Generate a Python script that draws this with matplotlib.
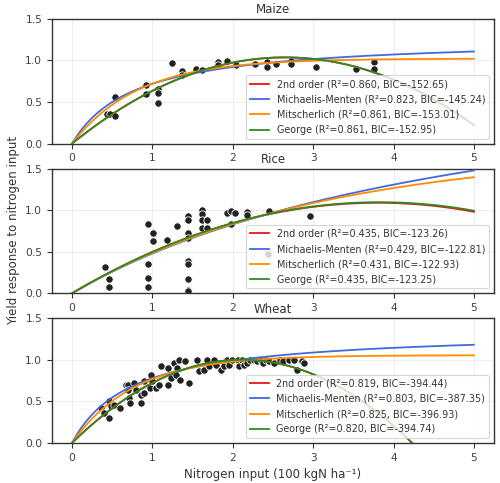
import numpy as np
import matplotlib
matplotlib.use("Agg")
import matplotlib.pyplot as plt

crops = ["Maize", "Rice", "Wheat"]

maize_x = [0.44, 0.475, 0.537, 0.537, 0.918, 0.918, 1.063, 1.063, 1.071, 1.237, 1.373, 1.373,
           1.542, 1.622, 1.815, 1.815, 1.923, 2.043, 2.279, 2.423, 2.423, 2.535, 2.721, 2.721,
           3.036, 3.536, 3.763, 3.763]
maize_y = [0.36, 0.357, 0.328, 0.556, 0.700, 0.592, 0.660, 0.609, 0.484, 0.969, 0.876, 0.828,
           0.897, 0.888, 0.981, 0.940, 0.996, 0.948, 0.960, 0.981, 0.921, 0.957, 0.993, 0.960,
           0.924, 0.897, 0.984, 0.900]

rice_x = [0.409, 0.455, 0.455, 0.947, 1.009, 1.009, 0.947, 0.947, 0.947, 1.175, 1.311, 1.448,
          1.448, 1.448, 1.448, 1.448, 1.448, 1.448, 1.448, 1.448, 1.613, 1.613, 1.613, 1.675,
          1.613, 1.675, 1.932, 1.981, 2.031, 1.981, 2.171, 2.171, 2.448, 2.444, 2.965]
rice_y = [0.312, 0.168, 0.072, 0.828, 0.720, 0.633, 0.348, 0.184, 0.072, 0.645, 0.813, 0.924,
          0.885, 0.724, 0.669, 0.388, 0.352, 0.168, 0.044, 0.024, 0.996, 0.948, 0.885, 0.885,
          0.789, 0.784, 0.964, 0.988, 0.964, 0.832, 0.976, 0.936, 0.988, 0.468, 0.928]

wheat_x = [0.36, 0.40, 0.46, 0.46, 0.48, 0.52, 0.59, 0.67, 0.70, 0.77, 0.69, 0.71, 0.72, 0.79,
           0.86, 0.86, 0.89, 0.90, 0.97, 0.98, 1.00, 1.05, 1.08, 1.11, 1.19, 1.19, 1.23, 1.27,
           1.29, 1.30, 1.33, 1.34, 1.41, 1.46, 1.56, 1.58, 1.64, 1.68, 1.70, 1.77, 1.79, 1.85,
           1.89, 1.93, 1.95, 1.99, 2.06, 2.08, 2.12, 2.14, 2.18, 2.22, 2.26, 2.30, 2.35, 2.37,
           2.41, 2.45, 2.51, 2.59, 2.63, 2.70, 2.76, 2.80, 2.86, 2.89]
wheat_y = [0.42, 0.36, 0.50, 0.30, 0.44, 0.46, 0.42, 0.70, 0.70, 0.72, 0.64, 0.54, 0.48, 0.64,
           0.58, 0.48, 0.74, 0.60, 0.66, 0.82, 0.74, 0.66, 0.70, 0.92, 0.90, 0.70, 0.78, 0.96,
           0.82, 0.90, 1.00, 0.76, 0.98, 0.72, 1.00, 0.86, 0.88, 1.00, 0.92, 1.00, 0.94, 0.88,
           0.92, 1.00, 0.94, 1.00, 1.00, 0.92, 1.00, 0.94, 0.96, 1.00, 1.00, 0.98, 1.00, 0.96,
           1.00, 0.98, 0.96, 1.00, 0.98, 1.00, 1.00, 0.88, 0.98, 0.96]

# fitted model parameters
quad_params = {"Maize": (0.782, -0.1475), "Rice": (0.572, -0.0752), "Wheat": (0.946, -0.2236)}
george_params = {"Maize": (0.782, -0.1475), "Rice": (0.572, -0.0747), "Wheat": (0.946, -0.2236)}
mm_params = {"Maize": (1.28, 0.78), "Rice": (3.086, 5.45), "Wheat": (1.355, 0.74)}
mit_params = {"Maize": (1.022, 1.22), "Rice": (1.729, 0.329), "Wheat": (1.055, 1.30)}

labels = {
    "Maize": ["2nd order (R²=0.860, BIC=-152.65)", "Michaelis-Menten (R²=0.823, BIC=-145.24)",
              "Mitscherlich (R²=0.861, BIC=-153.01)", "George (R²=0.861, BIC=-152.95)"],
    "Rice": ["2nd order (R²=0.435, BIC=-123.26)", "Michaelis-Menten (R²=0.429, BIC=-122.81)",
             "Mitscherlich (R²=0.431, BIC=-122.93)", "George (R²=0.435, BIC=-123.25)"],
    "Wheat": ["2nd order (R²=0.819, BIC=-394.44)", "Michaelis-Menten (R²=0.803, BIC=-387.35)",
              "Mitscherlich (R²=0.825, BIC=-396.93)", "George (R²=0.820, BIC=-394.74)"],
}

data = {"Maize": (maize_x, maize_y), "Rice": (rice_x, rice_y), "Wheat": (wheat_x, wheat_y)}

plt.rcParams.update({
    "font.family": "DejaVu Sans",
    "axes.edgecolor": "0.2",
    "axes.linewidth": 1.0,
    "xtick.color": "0.2",
    "ytick.color": "0.2",
    "xtick.labelcolor": "0.25",
    "ytick.labelcolor": "0.25",
    "xtick.labelsize": 7.7,
    "ytick.labelsize": 7.7,
    "xtick.major.size": 3.5,
    "ytick.major.size": 3.5,
    "text.color": "0.2",
    "axes.labelcolor": "0.2",
})

fig, axes = plt.subplots(3, 1, figsize=(5.0, 4.83), dpi=100, sharex=False)
fig.subplots_adjust(left=0.104, right=0.988, top=0.961, bottom=0.083, hspace=0.2)

xs = np.linspace(0, 5, 300)
for ax, crop in zip(axes, crops):
    x, y = data[crop]
    ax.scatter(x, y, s=28, color="#222222", edgecolor="white", linewidth=0.6, zorder=2)
    a, b = quad_params[crop]
    ax.plot(xs, a * xs + b * xs ** 2, color="#ee1111", lw=1.3, label=labels[crop][0], zorder=3)
    vm, k = mm_params[crop]
    ax.plot(xs, vm * xs / (k + xs), color="#4169e1", lw=1.3, label=labels[crop][1], zorder=3)
    A, c = mit_params[crop]
    ax.plot(xs, A * (1 - np.exp(-c * xs)), color="#ff8c00", lw=1.3, label=labels[crop][2], zorder=3)
    ga, gb = george_params[crop]
    ax.plot(xs, ga * xs + gb * xs ** 2, color="#2e8b22", lw=1.3, label=labels[crop][3], zorder=3)
    ax.set_ylim(0, 1.5)
    ax.set_xlim(-0.25, 5.25)
    ax.set_yticks([0, 0.5, 1.0, 1.5])
    ax.set_xticks([0, 1, 2, 3, 4, 5])
    ax.grid(True, color="0.93", lw=0.7)
    ax.set_axisbelow(True)
    ax.set_title(crop, fontsize=8.5, pad=4)
    leg = ax.legend(loc="lower right", fontsize=6.9, framealpha=0.8, edgecolor="0.8",
                    handlelength=2.0, borderpad=0.4, labelspacing=0.55)
    leg.get_frame().set_linewidth(0.8)

axes[2].set_xlabel("Nitrogen input (100 kgN ha⁻¹)", fontsize=8.5)
axes[1].set_ylabel("Yield response to nitrogen input", fontsize=8.5)

fig.savefig("out.png", dpi=100)
